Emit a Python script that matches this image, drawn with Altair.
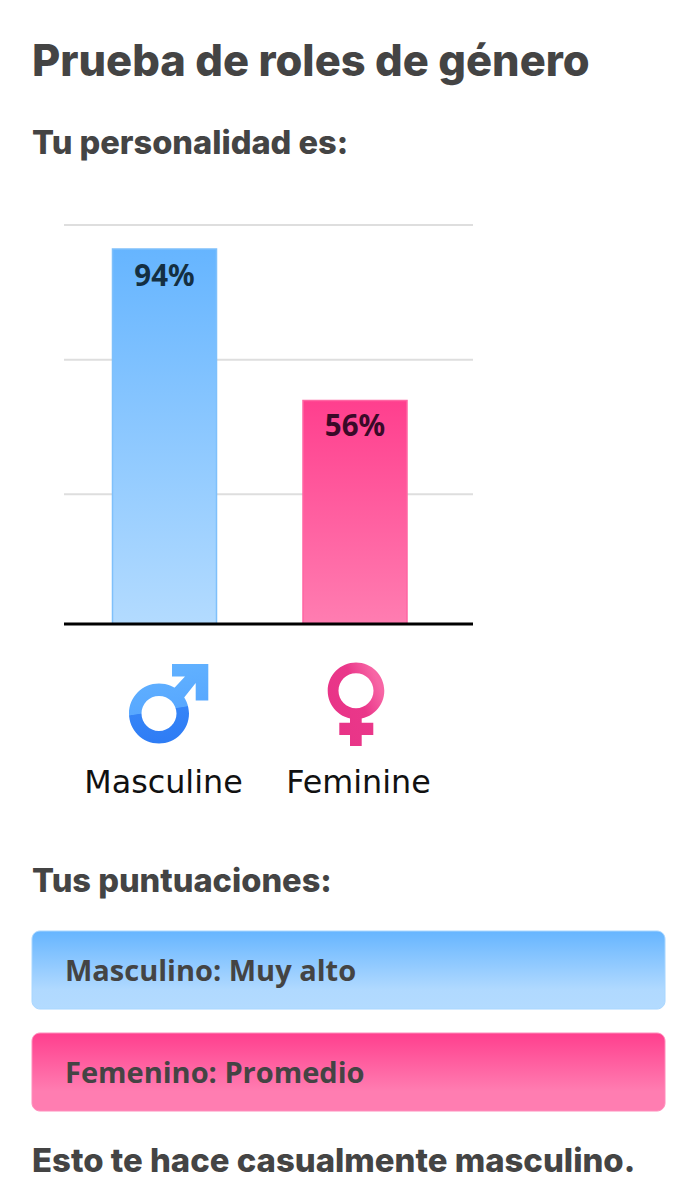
import altair as alt
import pandas as pd

# ---- values
categories = ["Masculine", "Feminine"]
percent = [94, 56]
percent_labels = ["94%", "56%"]
grid_values = [32.5, 66.25, 100]

title_text = "Prueba de roles de género"
intro_text = "Tu personalidad es:"
scores_heading = "Tus puntuaciones:"
score_lines = ["Masculino: Muy alto", "Femenino: Promedio"]
conclusion = "Esto te hace casualmente masculino."

OFF = 8  # page margin


def grad(stops, x1=0, y1=0, x2=0, y2=1):
    return {"gradient": "linear", "x1": x1, "y1": y1, "x2": x2, "y2": y2,
            "stops": [{"offset": o, "color": c} for o, c in stops]}


BLUE = [(0, "#66b5ff"), (1, "#b3dbff")]
PINK = [(0, "#ff3f8e"), (1, "#ff7db1")]
BLUE_PANEL = [(0, "#66b5ff"), (0.75, "#b0d9ff"), (1, "#b3dbff")]
PINK_PANEL = [(0, "#ff3f8e"), (0.75, "#ff7db1"), (1, "#ff7db1")]

x_scale = alt.Scale(domain=categories, range=[61.25, 442.25],
                    paddingInner=0.454, paddingOuter=0.227)
y_scale = alt.Scale(domain=[0, 100], range=[624 - OFF, 225 - OFF])

bars_df = pd.DataFrame({"cat": categories, "pct": percent, "label": percent_labels})
X = alt.X("cat:N", scale=x_scale, axis=None, sort=categories)
Y = alt.Y("pct:Q", scale=y_scale, axis=None)


def txt(text, x, y, font, size, weight, color="#444444", align="left"):
    return alt.Chart(pd.DataFrame({"t": [text]})).mark_text(
        font=font, fontSize=size, fontWeight=weight, color=color, align=align,
        baseline="alphabetic"
    ).encode(text="t:N", x=alt.value(x - OFF), y=alt.value(y - OFF))


def panel(y0, y1, stops, stroke):
    return alt.Chart(pd.DataFrame({"a": [0]})).mark_rect(
        fill=grad(stops), stroke=stroke, strokeWidth=1, cornerRadius=8
    ).encode(x=alt.value(32 - OFF), x2=alt.value(665 - OFF),
             y=alt.value(y0 - OFF), y2=alt.value(y1 - OFF))


grid = alt.Chart(pd.DataFrame({"g": grid_values})).mark_rule(
    color="#dedede", strokeWidth=2
).encode(y=alt.Y("g:Q", scale=y_scale, axis=None),
         x=alt.value(64 - OFF), x2=alt.value(473 - OFF))

bar_m = alt.Chart(bars_df[bars_df.cat == "Masculine"]).mark_bar(
    fill=grad(BLUE), stroke="#7fc0fb", strokeWidth=1.5).encode(x=X, y=Y)
bar_f = alt.Chart(bars_df[bars_df.cat == "Feminine"]).mark_bar(
    fill=grad(PINK), stroke="#ff66a3", strokeWidth=1.5).encode(x=X, y=Y)

bar_lab_m = alt.Chart(bars_df[bars_df.cat == "Masculine"]).mark_text(
    font="Noto Sans", fontSize=29.5, fontWeight=700, color="#142f42",
    baseline="alphabetic", dy=37).encode(x=X, y=Y, text="label:N")
bar_lab_f = alt.Chart(bars_df[bars_df.cat == "Feminine"]).mark_text(
    font="Noto Sans", fontSize=29.5, fontWeight=700, color="#3a0a28",
    baseline="alphabetic", dy=35).encode(x=X, y=Y, text="label:N")

baseline = alt.Chart(pd.DataFrame({"z": [0]})).mark_rule(
    color="#000000", strokeWidth=3
).encode(y=alt.Y("z:Q", scale=y_scale, axis=None),
         x=alt.value(64 - OFF), x2=alt.value(473 - OFF))

# icon outlines, in pixels about the icon's anchor (size=4 gives scale 1)
MALE = ("M-35.5,8.5 A30,30 0 1,1 24.5,8.5 A30,30 0 1,1 -35.5,8.5 Z "
        "M-23,8.5 A17.5,17.5 0 1,0 12,8.5 A17.5,17.5 0 1,0 -23,8.5 Z "
        "M7.5,-41 L43.8,-41 L43.8,-4.5 L31.2,-4.5 L31.2,-22 L16.5,-3.5 L6.5,-13.5 L20.5,-28.5 L7.5,-28.5 Z")
FEMALE = ("M-27.3,-14.3 A28.3,28.3 0 1,1 29.3,-14.3 A28.3,28.3 0 1,1 -27.3,-14.3 Z "
          "M-16.5,-14.3 A17.5,17.5 0 1,0 18.5,-14.3 A17.5,17.5 0 1,0 -16.5,-14.3 Z "
          "M-5,12 L6.7,12 L6.7,17.7 L18.3,17.7 L18.3,30 L6.7,30 L6.7,41 L-5,41 L-5,30 L-15.7,30 L-15.7,17.7 L-5,17.7 Z")

icon_m = alt.Chart(pd.DataFrame({"cat": ["Masculine"]})).mark_point(
    shape=MALE, size=4, filled=True, opacity=1, strokeWidth=0,
    fill=grad([(0, "#62b2ff"), (0.62, "#58a8ff"), (0.63, "#3584f7"), (1, "#2f7df5")],
              x1=0.25, y1=0, x2=0.4, y2=0.95)
).encode(x=X, y=alt.value(705 - OFF))
icon_f = alt.Chart(pd.DataFrame({"cat": ["Feminine"]})).mark_point(
    shape=FEMALE, size=4, filled=True, opacity=1, strokeWidth=0,
    fill=grad([(0, "#e83487"), (0.6, "#ea378a"), (1, "#f766a5")],
              x1=0.1, y1=0.75, x2=0.9, y2=0.25)
).encode(x=X, y=alt.value(705 - OFF))

layers = [
    txt(title_text, 32, 76, "Inter", 43.4, 800),
    txt(intro_text, 32, 154, "Inter", 32.6, 800),
    grid, bar_m, bar_f, baseline, bar_lab_m, bar_lab_f,
    icon_m, icon_f,
    txt(categories[0], 163.5, 793, "DejaVu Sans", 31.8, 400, "#111111", "center"),
    txt(categories[1], 358.5, 793, "DejaVu Sans", 31.8, 400, "#111111", "center"),
    txt(scores_heading, 32, 892, "Inter", 32.6, 800),
    panel(931, 1009, BLUE_PANEL, "#a8d6ff"),
    panel(1033, 1111, PINK_PANEL, "#ff8dbb"),
    txt(score_lines[0], 65, 981, "Open Sans", 29, 700),
    txt(score_lines[1], 65, 1083, "Open Sans", 29, 700),
    txt(conclusion, 32, 1172, "Inter", 32.9, 800),
]

chart = alt.layer(*layers).resolve_scale(x="shared", y="shared").properties(
    width=681, height=1184, padding=0, background="white",
    autosize=alt.AutoSizeParams(type="none")
).configure_view(stroke=None)

chart.save("out.html", embed_options={"renderer": "svg", "actions": False})
